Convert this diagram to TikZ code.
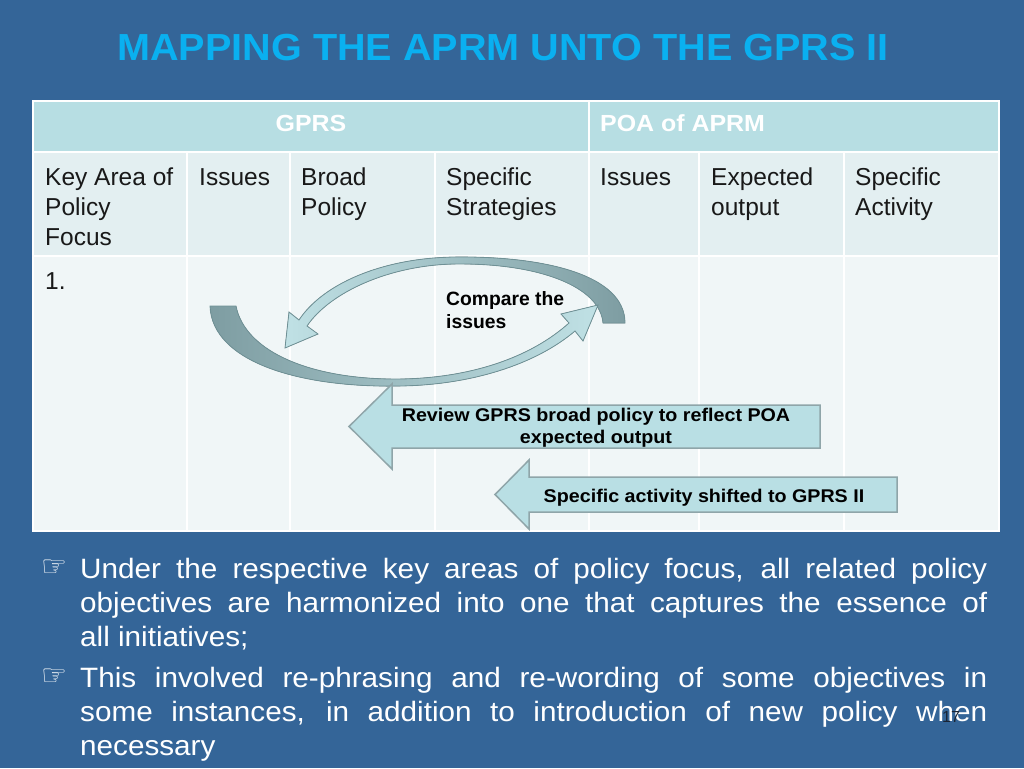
\documentclass[tikz,border=0pt]{standalone}
\usepackage{fontspec}
\setmainfont{Liberation Sans}
\newfontfamily\titlefont{Liberation Sans}[FakeStretch=1.05]
\newfontfamily\widefont{Liberation Sans}[FakeStretch=1.07]
\newfontfamily\bulletfont{Liberation Sans}[FakeStretch=1.06]
\newfontfamily\symfont{DejaVu Sans}
\definecolor{bgblue}{HTML}{346598}
\definecolor{titlecol}{HTML}{0AB0F0}
\definecolor{hdrfill}{HTML}{B7DEE3}
\definecolor{rowtwo}{HTML}{E3EFF1}
\definecolor{rowthree}{HTML}{F0F6F7}
\definecolor{calfill}{HTML}{B9DFE4}
\definecolor{caledge}{HTML}{8FA5A9}
\definecolor{arrlight}{HTML}{C0E1E5}
\definecolor{arrdark}{HTML}{7E9DA2}
\definecolor{arredge}{HTML}{6F9196}
\definecolor{pagecol}{HTML}{1A2535}
\begin{document}
\begin{tikzpicture}[x=1pt,y=-1pt,
  titlestyle/.style={inner sep=0pt, text=titlecol, font=\titlefont\bfseries\fontsize{37.7}{44}\selectfont},
  gridline/.style={draw=white, line width=2pt},
  hdrtext/.style={inner sep=0pt, text=white, font=\widefont\bfseries\fontsize{23.3}{26}\selectfont},
  celltext/.style={inner sep=0pt, anchor=base west, text=black!90, font=\fontsize{24.5}{30}\selectfont},
  curvA/.style={draw=arredge, line width=0.8pt, left color=arrlight, right color=arrdark},
  curvB/.style={draw=arredge, line width=0.8pt, left color=arrdark, right color=arrlight},
  blockarrow/.style={fill=calfill, draw=caledge, line width=1.5pt, line join=miter},
  caltext/.style={inner sep=0pt, anchor=base, text=black, font=\widefont\bfseries\fontsize{18.4}{22.5}\selectfont},
  cmptext/.style={inner sep=0pt, anchor=base west, text=black, font=\bfseries\fontsize{19.3}{23}\selectfont},
  bullettext/.style={inner sep=0pt, anchor=base west, text=white, font=\bulletfont\fontsize{28}{34}\selectfont},
  bulletsym/.style={inner sep=0pt, text=white, font=\symfont\fontsize{29}{29}\selectfont},
  pagenum/.style={inner sep=0pt, text=pagecol, font=\fontsize{16}{18}\selectfont}
]
\useasboundingbox (0,0) rectangle (1024,768);
\fill[bgblue] (0,0) rectangle (1024,768);

% title
\node[titlestyle, anchor=base] (title) at (503,60) {MAPPING THE APRM UNTO THE GPRS II};

% table fills
\fill[hdrfill] (33,101) rectangle (999,152);
\fill[rowtwo] (33,152) rectangle (999,256);
\fill[rowthree] (33,256) rectangle (999,531);
% grid
\draw[gridline] (33,152) -- (999,152);
\draw[gridline] (33,256) -- (999,256);
\draw[gridline] (589,101) -- (589,531);
\foreach \cx in {187,290,435,699,844} {\draw[gridline] (\cx,152) -- (\cx,531);}
\draw[gridline] (33,101) rectangle (999,531);

% header texts
\node[hdrtext, anchor=base] (hgprs) at (311,131) {GPRS};
\node[hdrtext, anchor=base west] (hpoa) at (600,131) {POA of APRM};

% column texts
\node[celltext] (c1) at (45,185) {\parbox[t]{140pt}{Key Area of\\Policy\\Focus}};
\node[celltext] (c2) at (199,185) {\parbox[t]{90pt}{Issues}};
\node[celltext] (c3) at (301,185) {\parbox[t]{130pt}{Broad\\Policy}};
\node[celltext] (c4) at (446,185) {\parbox[t]{140pt}{Specific\\Strategies}};
\node[celltext] (c5) at (600,185) {\parbox[t]{95pt}{Issues}};
\node[celltext] (c6) at (711,185) {\parbox[t]{130pt}{Expected\\output}};
\node[celltext] (c7) at (855,185) {\parbox[t]{140pt}{Specific\\Activity}};
\node[celltext] (r1) at (45,289) {1.};

% curved arrow A (top, tail at right, head at left)
\filldraw[curvA] (625,323) .. controls (625,275) and (545,256) .. (455,257)
   .. controls (380,258) and (322,285) .. (299,320) -- (289,312) -- (285,348)
   -- (318,334) -- (307,326) .. controls (330,292) and (390,265) .. (455,264)
   .. controls (540,263) and (600,287) .. (603,323) -- cycle;
% curved arrow B (bottom, tail at left, head at right)
\filldraw[curvB] (210,306) .. controls (212,362) and (300,388) .. (400,386)
   .. controls (470,385) and (535,365) .. (575,331) -- (583,341) -- (598,305)
   -- (561,314) -- (569,323) .. controls (530,358) and (470,378) .. (400,379)
   .. controls (312,380) and (245,352) .. (236,306) -- cycle;

\node[cmptext] (cmp) at (446,305) {\parbox[t]{140pt}{Compare the\\issues}};

% block arrows
\filldraw[blockarrow] (820,405) -- (392,405) -- (392,384) -- (349,426.5)
   -- (392,469) -- (392,448) -- (820,448) -- cycle;
\node[caltext] (rev) at (596,421) {\parbox[t]{420pt}{\centering Review GPRS broad policy to reflect POA\\expected output}};

\filldraw[blockarrow] (897,477) -- (529,477) -- (529,460) -- (495,494.5)
   -- (529,529) -- (529,512) -- (897,512) -- cycle;
\node[caltext] (spec) at (704,502) {Specific activity shifted to GPRS II};

% bullets
\node[bulletsym] (s1) at (54,568) {☞};
\node[bullettext] (b1) at (80,578) {\parbox[t]{907pt}{\tolerance=10000\hbadness=10000\hyphenpenalty=10000
Under the respective key areas of policy focus, all related policy\linebreak
objectives are harmonized into one that captures the essence of\linebreak
all initiatives;}};
\node[bulletsym] (s2) at (54,677) {☞};
\node[bullettext] (b2) at (80,687) {\parbox[t]{907pt}{\tolerance=10000\hbadness=10000\hyphenpenalty=10000
This involved re-phrasing and re-wording of some objectives in\linebreak
some instances, in addition to introduction of new policy when\linebreak
necessary}};

% page number
\node[pagenum] (pg) at (951,717) {17};
\end{tikzpicture}
\end{document}
